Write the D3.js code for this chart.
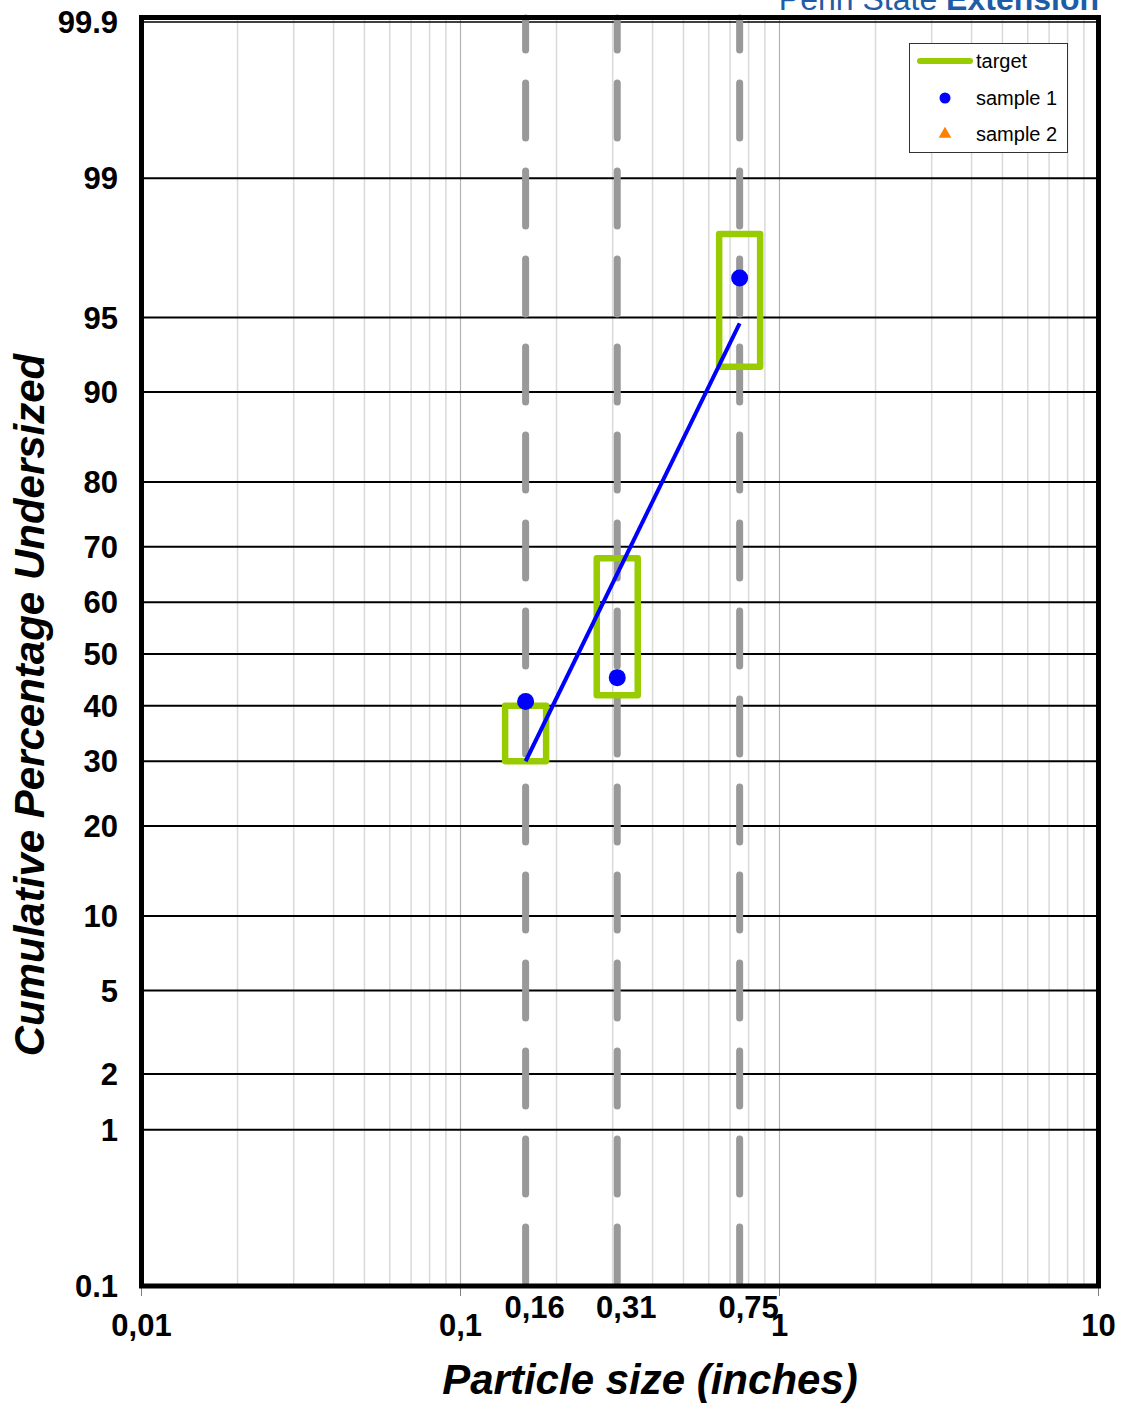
<!DOCTYPE html>
<html>
<head>
<meta charset="utf-8">
<script src="https://cdn.jsdelivr.net/npm/d3@7"></script>
<style>
  html, body { margin: 0; padding: 0; background: #fff; }
  svg { display: block; font-family: "Liberation Sans", Arial, sans-serif; }
</style>
</head>
<body>
<svg id="chart" width="1126" height="1403"></svg>
<script>
// Screen sizes (inches) and target bands of cumulative % undersized
const sizes = [0.16, 0.31, 0.75];
const sizeLabels = ["0,16", "0,31", "0,75"];
const targetLow = [30, 42, 92];
const targetHigh = [40, 68, 98];

// Measured samples (cumulative % undersized at each screen)
const sample1 = [40.8, 45.4, 96.7];
const sample2 = [];

// Straight reference line through the distribution
const fitSizes = [0.16, 0.75];
const fitPercents = [30, 94.7];

// Axis ticks
const yTicks = [0.1, 1, 2, 5, 10, 20, 30, 40, 50, 60, 70, 80, 90, 95, 99, 99.9];
const yTickLabels = ["0.1", "1", "2", "5", "10", "20", "30", "40", "50", "60", "70", "80", "90", "95", "99", "99.9"];
const xTicks = [0.01, 0.1, 1, 10];
const xTickLabels = ["0,01", "0,1", "1", "10"];

// Inverse standard normal CDF (Acklam) for the probability axis
function probit(p) {
  const a = [-3.969683028665376e+01, 2.209460984245205e+02, -2.759285104469687e+02, 1.383577518672690e+02, -3.066479806614716e+01, 2.506628277459239e+00];
  const b = [-5.447609879822406e+01, 1.615858368580409e+02, -1.556989798598866e+02, 6.680131188771972e+01, -1.328068155288572e+01];
  const c = [-7.784894002430293e-03, -3.223964580411365e-01, -2.400758277161838e+00, -2.549732539343734e+00, 4.374664141464968e+00, 2.938163982698783e+00];
  const d = [7.784695709041462e-03, 3.224671290700398e-01, 2.445134137142996e+00, 3.754408661907416e+00];
  const pl = 0.02425, ph = 1 - pl;
  let q, r;
  if (p < pl) {
    q = Math.sqrt(-2 * Math.log(p));
    return (((((c[0]*q+c[1])*q+c[2])*q+c[3])*q+c[4])*q+c[5]) / ((((d[0]*q+d[1])*q+d[2])*q+d[3])*q+1);
  } else if (p <= ph) {
    q = p - 0.5; r = q * q;
    return (((((a[0]*r+a[1])*r+a[2])*r+a[3])*r+a[4])*r+a[5])*q / (((((b[0]*r+b[1])*r+b[2])*r+b[3])*r+b[4])*r+1);
  } else {
    q = Math.sqrt(-2 * Math.log(1 - p));
    return -(((((c[0]*q+c[1])*q+c[2])*q+c[3])*q+c[4])*q+c[5]) / ((((d[0]*q+d[1])*q+d[2])*q+d[3])*q+1);
  }
}

const plotLeft = 141.5, plotRight = 1098.5, plotTop = 22, plotBottom = 1286;
const svg = d3.select("#chart");

const x = d3.scaleLog().domain([0.01, 10]).range([plotLeft, plotRight]);
const zScale = d3.scaleLinear().domain([probit(0.001), probit(0.999)]).range([plotBottom, plotTop]);
const y = pct => zScale(probit(pct / 100));

// Minor vertical grid (2..9 in each decade) and decade lines
const minor = [];
[0.01, 0.1, 1].forEach(dec => { for (let k = 2; k <= 9; k++) minor.push(dec * k); });
svg.append("g").selectAll("line").data(minor).join("line")
  .attr("x1", d => x(d)).attr("x2", d => x(d))
  .attr("y1", plotTop - 4).attr("y2", plotBottom)
  .attr("stroke", "#d9d9d9").attr("stroke-width", 1.5);
svg.append("g").selectAll("line").data([0.1, 1]).join("line")
  .attr("x1", d => x(d)).attr("x2", d => x(d))
  .attr("y1", plotTop - 4).attr("y2", plotBottom)
  .attr("stroke", "#b3b3b3").attr("stroke-width", 1.2);

// Horizontal probability grid
svg.append("g").selectAll("line").data(yTicks.filter(t => t > 0.1)).join("line")
  .attr("x1", plotLeft).attr("x2", plotRight)
  .attr("y1", d => y(d)).attr("y2", d => y(d))
  .attr("stroke", "#000").attr("stroke-width", d => d === 99.9 ? 1.5 : 2);

// Small ticks under the x axis
svg.append("g").selectAll("line").data(xTicks).join("line")
  .attr("x1", d => x(d)).attr("x2", d => x(d))
  .attr("y1", plotBottom).attr("y2", plotBottom + 10)
  .attr("stroke", "#808080").attr("stroke-width", 1);

// Screen size dashed markers
svg.append("g").selectAll("line").data(sizes).join("line")
  .attr("x1", d => x(d)).attr("x2", d => x(d))
  .attr("y1", plotBottom - 4).attr("y2", plotTop - 4)
  .attr("stroke", "#999").attr("stroke-width", 7)
  .attr("stroke-linecap", "round")
  .attr("stroke-dasharray", "55,33");

// Target boxes
svg.append("g").selectAll("rect").data(sizes).join("rect")
  .attr("x", d => x(d) - 20.5)
  .attr("width", 41)
  .attr("y", (d, i) => y(targetHigh[i]))
  .attr("height", (d, i) => y(targetLow[i]) - y(targetHigh[i]))
  .attr("fill", "none").attr("stroke", "#99cc00").attr("stroke-width", 6.5)
  .attr("stroke-linejoin", "round");

// Reference line
svg.append("path")
  .datum(fitSizes.map((s, i) => [s, fitPercents[i]]))
  .attr("d", d3.line().x(d => x(d[0])).y(d => y(d[1])))
  .attr("fill", "none").attr("stroke", "#0000ff").attr("stroke-width", 4);

// Sample points
svg.append("g").selectAll("circle").data(sample1).join("circle")
  .attr("cx", (d, i) => x(sizes[i])).attr("cy", d => y(d))
  .attr("r", 8.5).attr("fill", "#0000ff");
svg.append("g").selectAll("path").data(sample2).join("path")
  .attr("transform", (d, i) => `translate(${x(sizes[i])},${y(d)})`)
  .attr("d", d3.symbol(d3.symbolTriangle, 90))
  .attr("fill", "#ff8000");

// Plot frame
svg.append("path")
  .attr("d", `M${plotLeft},${plotBottom}V17.5H${plotRight}V${plotBottom}Z`)
  .attr("fill", "none").attr("stroke", "#000").attr("stroke-width", 5);

// Y tick labels
svg.append("g").selectAll("text").data(yTicks).join("text")
  .attr("x", 118).attr("y", d => y(d))
  .attr("dy", "0.36em").attr("text-anchor", "end")
  .attr("font-size", 31).attr("font-weight", "bold")
  .text((d, i) => yTickLabels[i]);

// X tick labels
svg.append("g").selectAll("text").data(xTicks).join("text")
  .attr("x", d => x(d)).attr("y", 1325)
  .attr("dy", "0.36em").attr("text-anchor", "middle")
  .attr("font-size", 31).attr("font-weight", "bold")
  .text((d, i) => xTickLabels[i]);
svg.append("g").selectAll("text").data(sizes).join("text")
  .attr("x", d => x(d) + 9).attr("y", 1307)
  .attr("dy", "0.36em").attr("text-anchor", "middle")
  .attr("font-size", 31).attr("font-weight", "bold")
  .text((d, i) => sizeLabels[i]);

// Axis titles
svg.append("text")
  .attr("x", 650).attr("y", 1394)
  .attr("text-anchor", "middle")
  .attr("font-size", 42).attr("font-weight", "bold").attr("font-style", "italic")
  .text("Particle size (inches)");
svg.append("text")
  .attr("transform", "translate(44,705) rotate(-90)")
  .attr("text-anchor", "middle")
  .attr("font-size", 42).attr("font-weight", "bold").attr("font-style", "italic")
  .text("Cumulative Percentage Undersized");

// Brand text
const brand = svg.append("text")
  .attr("x", 1099).attr("y", 10).attr("text-anchor", "end")
  .attr("font-size", 32).attr("fill", "#1f5ca8");
brand.append("tspan").text("Penn State ");
brand.append("tspan").attr("font-weight", "bold").text("Extension");

// Legend
const lg = svg.append("g");
lg.append("rect").attr("x", 909.5).attr("y", 43.5).attr("width", 158).attr("height", 109)
  .attr("fill", "#fff").attr("stroke", "#333").attr("stroke-width", 1);
lg.append("line").attr("x1", 920).attr("x2", 970).attr("y1", 61).attr("y2", 61)
  .attr("stroke", "#99cc00").attr("stroke-width", 6).attr("stroke-linecap", "round");
lg.append("circle").attr("cx", 945).attr("cy", 98).attr("r", 5.5).attr("fill", "#0000ff");
lg.append("path").attr("transform", "translate(945,134)")
  .attr("d", d3.symbol(d3.symbolTriangle, 70)).attr("fill", "#ff8000");
const legendLabels = ["target", "sample 1", "sample 2"];
const legendY = [61, 98, 134];
lg.selectAll("text").data(legendLabels).join("text")
  .attr("x", 976).attr("y", (d, i) => legendY[i]).attr("dy", "0.36em")
  .attr("font-size", 20).attr("fill", "#000")
  .text(d => d);
</script>
</body>
</html>
